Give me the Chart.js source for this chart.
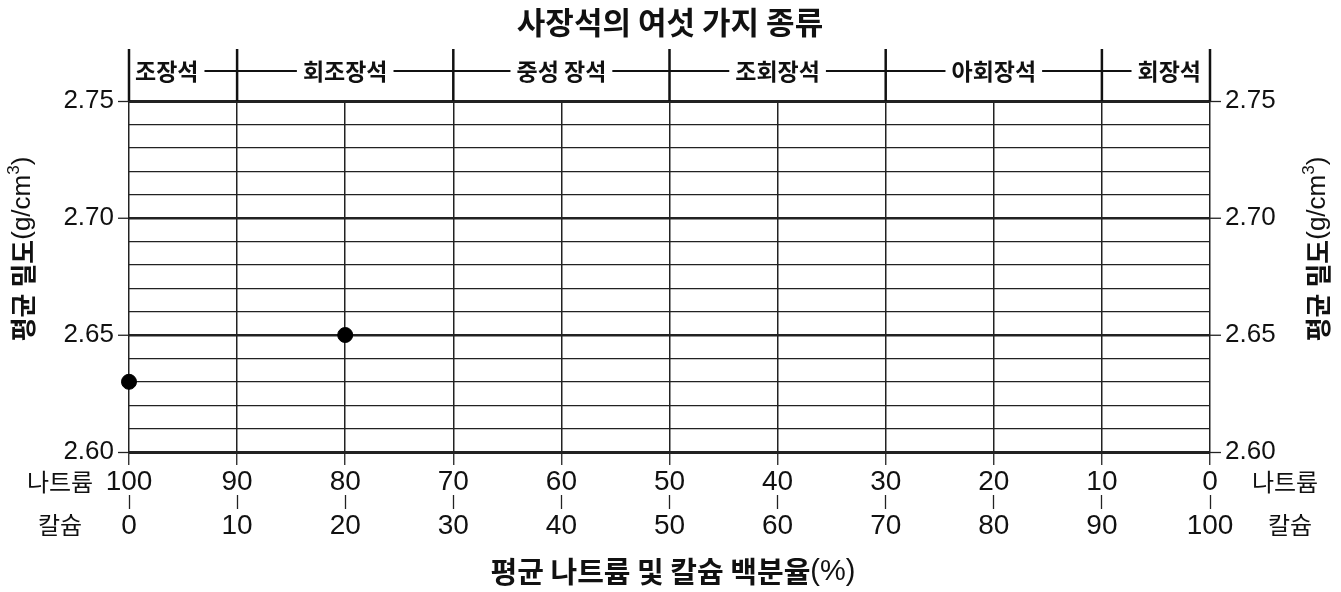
<!DOCTYPE html>
<html>
<head>
<meta charset="utf-8">
<script src="https://cdn.jsdelivr.net/npm/chart.js@4"></script>
<style>
  html, body { margin: 0; padding: 0; background: #fff; }
  #wrap { width: 1341px; height: 592px; }
</style>
</head>
<body>
<div id="wrap"><canvas id="chart"></canvas></div>
<script>
// 데이터 (칼슘 백분율 기준)
const calcium = [0, 20];
const density = [2.63, 2.65];

// 사장석 종류와 경계 (칼슘 %)
const typeNames = ['조장석', '회조장석', '중성 장석', '조회장석', '아회장석', '회장석'];
const typeBounds = [0, 10, 30, 50, 70, 90, 100];

const rowNames = ['나트륨', '칼슘'];
const chartTitle = '사장석의 여섯 가지 종류';
const xTitleBold = '평균 나트륨 및 칼슘 백분율';
const xTitleNormal = '(%)';
const yTitleBold = '평균 밀도';

const NUM_FONT = '"Liberation Sans", Arial, "Noto Sans CJK KR", sans-serif';
const KR_FONT = '"Noto Sans CJK KR", "Liberation Sans", sans-serif';

function isMajor(v) {
    return Math.round(v * 100) % 5 === 0;
}

// 제목, 상단 종류 띠, 축 제목 그리기
const decoPlugin = {
    id: 'deco',
    afterDraw(chart) {
        const ctx = chart.ctx;
        const area = chart.chartArea;
        const x = chart.scales.x;
        const bandTop = 49;
        const bandY = 71;

        ctx.save();
        ctx.fillStyle = '#111';
        ctx.strokeStyle = '#111';

        // 제목
        ctx.font = 'bold 31px ' + KR_FONT;
        ctx.textAlign = 'center';
        ctx.textBaseline = 'middle';
        ctx.fillText(chartTitle, 670, 22);

        // 상단 띠 구분선
        ctx.lineWidth = 2.5;
        typeBounds.forEach(b => {
            const px = x.getPixelForValue(b);
            ctx.beginPath();
            ctx.moveTo(px, bandTop);
            ctx.lineTo(px, area.top);
            ctx.stroke();
        });

        // 종류 이름과 가로선
        ctx.font = 'bold 23px ' + KR_FONT;
        ctx.lineWidth = 2;
        const gap = 6;
        typeNames.forEach((name, i) => {
            const x0 = x.getPixelForValue(typeBounds[i]);
            const x1 = x.getPixelForValue(typeBounds[i + 1]);
            const w = ctx.measureText(name).width;
            let tl;
            if (i === 0) tl = x0 + 6;
            else if (i === typeNames.length - 1) tl = x1 - 9 - w;
            else tl = (x0 + x1) / 2 - w / 2;
            ctx.textAlign = 'left';
            ctx.fillText(name, tl, bandY);
            ctx.beginPath();
            if (i !== 0) {
                ctx.moveTo(x0, bandY);
                ctx.lineTo(tl - gap, bandY);
            }
            if (i !== typeNames.length - 1) {
                ctx.moveTo(tl + w + gap, bandY);
                ctx.lineTo(x1, bandY);
            }
            ctx.stroke();
        });

        // 나트륨 / 칼슘 행 이름
        ctx.font = '24px ' + KR_FONT;
        ctx.textAlign = 'center';
        ctx.fillText(rowNames[0], area.left - 69, 482);
        ctx.fillText(rowNames[1], area.left - 69, 525);
        ctx.fillText(rowNames[0], area.right + 75, 482);
        ctx.fillText(rowNames[1], area.right + 80, 525);

        // x축 제목
        ctx.font = 'bold 29px ' + KR_FONT;
        const wb = ctx.measureText(xTitleBold).width;
        ctx.font = '29px ' + NUM_FONT;
        const wn = ctx.measureText(xTitleNormal).width;
        let sx = 673 - (wb + wn) / 2;
        ctx.textAlign = 'left';
        ctx.font = 'bold 29px ' + KR_FONT;
        ctx.fillText(xTitleBold, sx, 572);
        ctx.font = '29px ' + NUM_FONT;
        ctx.fillText(xTitleNormal, sx + wb, 572);

        // y축 제목 (양쪽)
        [23, 1318].forEach(cx => drawYTitle(ctx, cx, 249));
        ctx.restore();
    }
};

function drawYTitle(ctx, cx, cy) {
    const parts = [
        { t: yTitleBold, f: 'bold 26px ' + KR_FONT, dy: 0 },
        { t: '(g/cm', f: '26px ' + NUM_FONT, dy: 0 },
        { t: '3', f: '17px ' + NUM_FONT, dy: -9 },
        { t: ')', f: '26px ' + NUM_FONT, dy: 0 }
    ];
    let total = 0;
    parts.forEach(p => { ctx.font = p.f; p.w = ctx.measureText(p.t).width; total += p.w; });
    ctx.save();
    ctx.translate(cx, cy);
    ctx.rotate(-Math.PI / 2);
    ctx.textAlign = 'left';
    ctx.textBaseline = 'middle';
    let px = -total / 2;
    parts.forEach(p => {
        ctx.font = p.f;
        ctx.fillText(p.t, px, p.dy);
        px += p.w;
    });
    ctx.restore();
}

const yGrid = {
    color: '#222',
    lineWidth: c => {
        const v = c.tick ? c.tick.value : 0;
        if (Math.abs(v - 2.6) < 1e-6 || Math.abs(v - 2.75) < 1e-6) return 3;
        return isMajor(v) ? 2.5 : 1.3;
    },
    tickColor: c => (c.tick && isMajor(c.tick.value)) ? '#222' : 'rgba(0,0,0,0)',
    tickLength: 11,
    tickWidth: 1.3
};

const yTicks = {
    stepSize: 0.01,
    color: '#111',
    padding: 4,
    font: { family: NUM_FONT, size: 26 },
    autoSkip: false,
    callback: v => isMajor(v) ? v.toFixed(2) : ''
};

new Chart(document.getElementById('chart'), {
    type: 'scatter',
    data: {
        datasets: [{
            data: calcium.map((c, i) => ({ x: c, y: density[i] })),
            backgroundColor: '#000',
            borderColor: '#000',
            pointRadius: 7.5,
            pointHoverRadius: 7.5,
            clip: false
        }]
    },
    options: {
        responsive: true,
        maintainAspectRatio: false,
        animation: false,
        layout: { padding: { top: 101, left: 0, right: 0, bottom: 0 } },
        plugins: {
            legend: { display: false },
            tooltip: { enabled: false }
        },
        scales: {
            x: {
                type: 'linear',
                position: 'bottom',
                min: 0, max: 100,
                border: { display: false },
                grid: { color: '#222', lineWidth: 1.5, tickLength: 13, tickWidth: 1.3, tickColor: '#222' },
                ticks: {
                    stepSize: 10,
                    color: '#111',
                    padding: 0,
                    font: { family: NUM_FONT, size: 28 },
                    callback: v => String(100 - v)
                },
                afterFit: s => { s.height = 43; }
            },
            x2: {
                type: 'linear',
                position: 'bottom',
                min: 0, max: 100,
                border: { display: false },
                grid: { drawOnChartArea: false, tickLength: 14, tickWidth: 1.3, tickColor: '#222' },
                ticks: {
                    stepSize: 10,
                    color: '#111',
                    padding: 0,
                    font: { family: NUM_FONT, size: 28 },
                    callback: v => String(v)
                },
                afterFit: s => { s.height = 97; }
            },
            y: {
                type: 'linear',
                position: 'left',
                min: 2.6, max: 2.75,
                border: { display: false },
                grid: yGrid,
                ticks: yTicks,
                afterFit: s => { s.width = 129; }
            },
            y2: {
                type: 'linear',
                position: 'right',
                min: 2.6, max: 2.75,
                border: { display: false },
                grid: Object.assign({}, yGrid, { drawOnChartArea: false }),
                ticks: yTicks,
                afterFit: s => { s.width = 131; }
            }
        }
    },
    plugins: [decoPlugin]
});
</script>
</body>
</html>
